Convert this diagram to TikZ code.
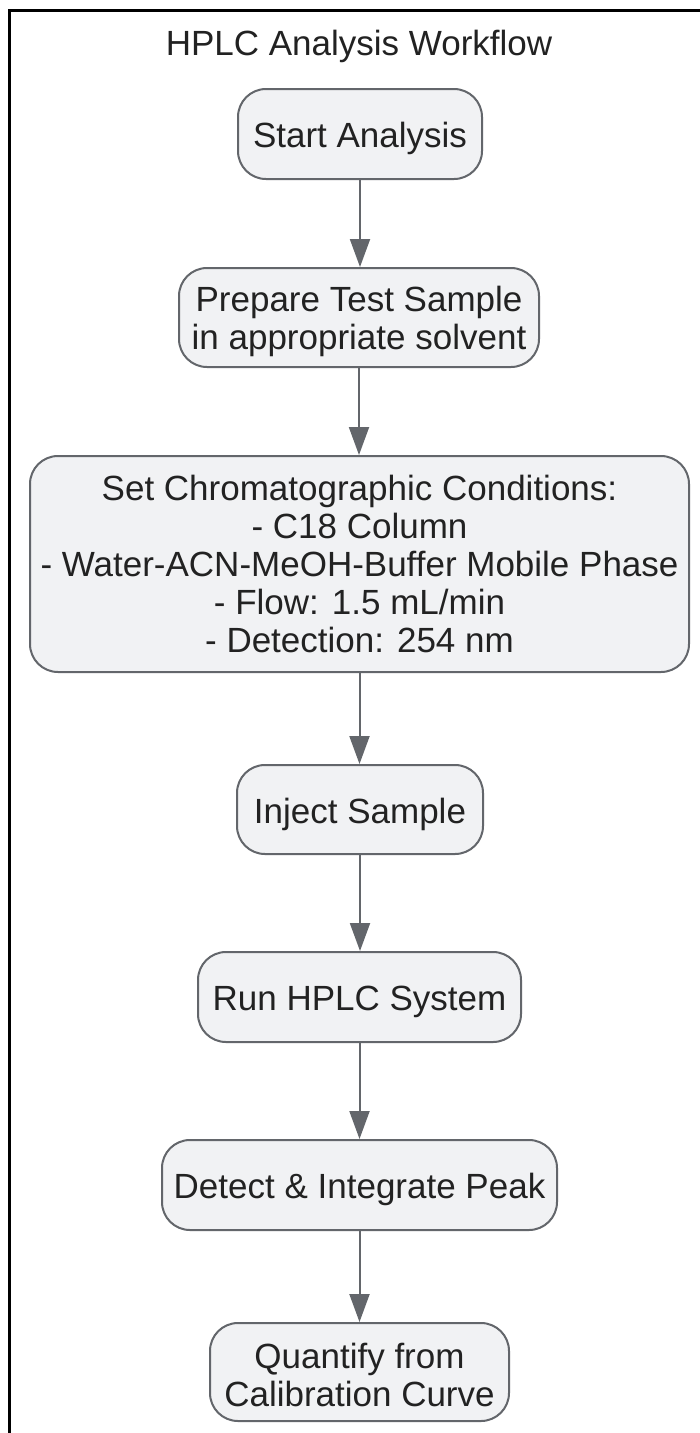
\documentclass[tikz,border=0pt]{standalone}
\usepackage{fontspec}
\setmainfont{Liberation Sans}
\usetikzlibrary{arrows.meta}
\definecolor{boxfill}{HTML}{F1F2F4}
\definecolor{boxline}{HTML}{63666B}
\definecolor{txt}{HTML}{222222}
\newcommand\toppad[1]{\rule{0pt}{#1}}
\tikzset{
  stepbox/.style={draw=boxline, fill=boxfill, line width=2pt, rounded corners=28pt,
    inner sep=0pt, align=center, text=txt, font=\fontsize{35}{38}\selectfont},
  oneline/.style={text height=27pt, text depth=0pt},
  arr/.style={draw=boxline, line width=2pt,
    -{Triangle[length=28pt,width=20pt]}, shorten >=0pt},
  titletext/.style={text=txt, font=\fontsize{35}{38}\selectfont, inner sep=0pt}
}
\begin{document}
\begin{tikzpicture}[x=1pt,y=-1pt]
\useasboundingbox (0,0) rectangle (700,1433);
\fill[white] (0,0) rectangle (700,1433);
% outer frame (cut off at right and bottom)
\draw[black, line width=2.6pt] (9.5,1440) -- (9.5,10.5) -- (710,10.5);
\node[titletext] (title) at (359,46.5) {HPLC Analysis Workflow};
\node[stepbox, oneline, minimum width=244pt, minimum height=90pt] (start) at (360,134) {Start Analysis};
\node[stepbox, minimum width=360pt, minimum height=99pt] (prep) at (359,317.5) {\toppad{33pt}Prepare Test Sample\\in appropriate solvent};
\node[stepbox, minimum width=659pt, minimum height=216pt] (cond) at (359.5,564) {Set Chromatographic Conditions:\\- C18 Column\\- Water-ACN-MeOH-Buffer Mobile Phase\\- Flow: 1.5 mL/min\\- Detection: 254 nm};
\node[stepbox, oneline, minimum width=246pt, minimum height=89pt] (inject) at (360,809.5) {Inject Sample};
\node[stepbox, oneline, minimum width=323pt, minimum height=90pt] (run) at (359.5,997) {Run HPLC System};
\node[stepbox, oneline, minimum width=395pt, minimum height=90pt] (detect) at (359.5,1185) {Detect \& Integrate Peak};
\node[stepbox, minimum width=299pt, minimum height=98pt] (quant) at (359.5,1372) {\toppad{31pt}Quantify from\\Calibration Curve};
\draw[arr] (start.south) -- (start.south |- prep.north);
\draw[arr] (prep.south) -- (prep.south |- cond.north);
\draw[arr] (cond.south) -- (cond.south |- inject.north);
\draw[arr] (inject.south) -- (inject.south |- run.north);
\draw[arr] (run.south) -- (run.south |- detect.north);
\draw[arr] (detect.south) -- (detect.south |- quant.north);
\end{tikzpicture}
\end{document}
